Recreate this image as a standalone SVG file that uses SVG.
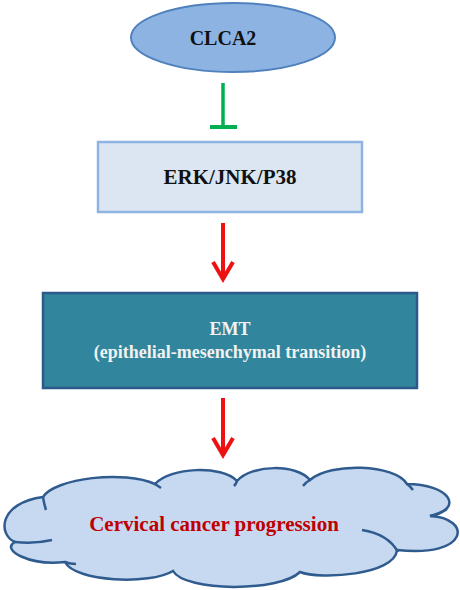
<svg xmlns="http://www.w3.org/2000/svg" width="460" height="590" viewBox="0 0 460 590">
<style>
.lbl{font-family:"Liberation Serif","Times New Roman",serif;font-weight:bold;text-anchor:middle}
.red{stroke:#ee1111;stroke-width:4;fill:none}
.cloud{fill:#c6d9f1;stroke:#2f5b8f;stroke-width:2.5}
.cin{fill:none;stroke:#2f5b8f;stroke-width:2.5}
</style>
<rect width="460" height="590" fill="#ffffff"/>
<g id="connectors">
<line x1="223" y1="83" x2="223" y2="127" stroke="#00b050" stroke-width="3.5"/>
<line x1="210" y1="127" x2="237" y2="127" stroke="#00b050" stroke-width="4"/>
<line class="red" x1="223" y1="223" x2="223" y2="278"/>
<polyline class="red" points="213,262 223,279 233,262"/>
<line class="red" x1="223" y1="398" x2="223" y2="454"/>
<polyline class="red" points="213,438 223,455 233,438"/>
</g>
<g id="node-clca2">
<ellipse cx="233" cy="37.5" rx="102" ry="34.5" fill="#8db3e2" stroke="#4f81bd" stroke-width="2"/>
<text class="lbl" x="223" y="45" font-size="20" fill="#111111">CLCA2</text>
</g>
<g id="node-erk">
<rect x="98" y="142" width="264" height="70" fill="#dce6f2" stroke="#8eb4e3" stroke-width="2.5"/>
<text class="lbl" x="230" y="184" font-size="21" fill="#111111">ERK/JNK/P38</text>
</g>
<g id="node-emt">
<rect x="43" y="293" width="374" height="95" fill="#31859c" stroke="#2a5a8a" stroke-width="2.5"/>
<text class="lbl" x="230" y="335" font-size="18" fill="#f2f2f2">EMT</text>
<text class="lbl" x="230" y="358" font-size="18" fill="#f2f2f2">(epithelial-mesenchymal transition)</text>
</g>
<g id="node-cancer">
<path class="cloud" d="M43,497 C55,478 125,470 155,484 C170,467 222,465 237,481 C252,464 297,464 310,480 C330,462 395,464 407,484 C448,484 466,508 430,516 C472,518 470,558 397,550 C395,575 320,580 300,572 C280,592 185,592 173,571 C150,585 75,582 65,562 C30,566 0,550 15,542 C-2,535 -2,503 43,497 Z"/>
<path class="cin" d="M15,542 Q35,544 52,540"/>
<path class="cin" d="M65,562 Q70,564 76,564"/>
<path class="cin" d="M155,484 Q158,486 161,488"/>
<path class="cin" d="M43,497 Q44,504 46,510"/>
<path class="cin" d="M362,530 Q388,534 398,552"/>
<path class="cin" d="M430,516 Q440,514 447,509"/>
<path class="cin" d="M310,480 Q306,482 303,486"/>
<path class="cin" d="M237,481 Q236,484 234,486"/>
<path class="cin" d="M407,484 Q410,486 413,490"/>
<text class="lbl" x="214" y="531" font-size="21" fill="#c00000">Cervical cancer progression</text>
</g>
</svg>
